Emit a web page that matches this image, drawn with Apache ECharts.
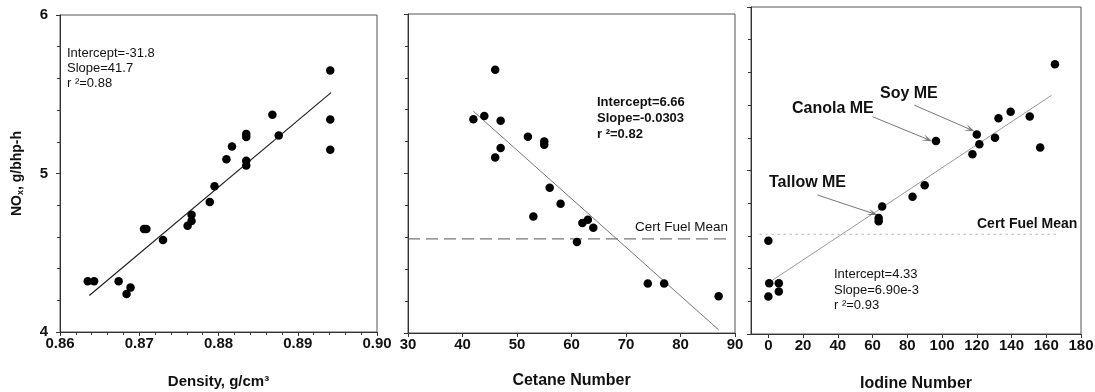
<!DOCTYPE html>
<html>
<head>
<meta charset="utf-8">
<script src="https://cdn.jsdelivr.net/npm/echarts@6/dist/echarts.min.js"></script>
<style>html,body{margin:0;padding:0;background:#fff}#c{width:1095px;height:392px}</style>
</head>
<body>
<div id="c"></div>
<script>
// ---- Data ----
const densityX = [0.8635,0.8643,0.8674,0.8684,0.8689,0.8706,0.8709,0.8730,0.8761,0.8766,0.8766,0.8789,0.8795,0.8810,0.8817,0.8835,0.8835,0.8835,0.8835,0.8868,0.8876,0.8941,0.8941,0.8941];
const densityNOx = [4.32,4.32,4.32,4.24,4.28,4.65,4.65,4.58,4.67,4.74,4.70,4.82,4.92,5.09,5.17,5.25,5.23,5.08,5.05,5.37,5.24,5.65,5.34,5.15];
const densityFitX = [0.8637,0.8942];
const densityFitY = [4.23,5.51];

const cetaneX = [46,42,44,47,47,46,52,55,55,56,58,53,62,63,64,61,74,77,87];
const cetaneNOx = [5.65,5.34,5.36,5.33,5.16,5.10,5.23,5.20,5.18,4.91,4.81,4.73,4.69,4.71,4.66,4.57,4.31,4.31,4.23];
const cetaneFitX = [42,87];
const cetaneFitY = [5.39,4.02];
const cetaneCertX = [30,88.7];
const cetaneCertY = [4.59,4.59];

const iodineX = [165,96.5,120,121.5,117.5,130.5,132.5,139.5,150.5,156.5,90,83,65.5,63.5,63.5,0,0.5,6,6,0];
const iodineNOx = [5.65,5.18,5.22,5.16,5.10,5.20,5.32,5.36,5.33,5.14,4.91,4.84,4.78,4.71,4.69,4.57,4.31,4.31,4.26,4.23];
const iodineFitX = [2.5,163];
const iodineFitY = [4.33,5.46];
const iodineCertX = [-5,166];
const iodineCertY = [4.61,4.61];
const iodineTicks = [0,20,40,60,80,100,120,140,160,180];
// arrows: [fromX, fromY, toX, toY]
const arrowSoy = [84,5.40,116,5.252];
const arrowCanola = [60,5.329,91.6,5.191];
const arrowTallow = [28.3,4.85,60,4.738];

const yTitle = 'NO{sub|x}, g/bhp-h';
const xTitles = ['Density, g/cm\u00B3','Cetane Number','Iodine Number'];
const stats1 = ['Intercept=-31.8','Slope=41.7','r \u00B2=0.88'];
const stats2 = ['Intercept=6.66','Slope=-0.0303','r \u00B2=0.82'];
const stats3 = ['Intercept=4.33','Slope=6.90e-3','r \u00B2=0.93'];

// ---- Helpers ----
const zip = (a,b) => a.map((v,i)=>[v,b[i]]);
const FONT = 'Liberation Sans, Arial, sans-serif';
const chart = echarts.init(document.getElementById('c'));

const labelStyle = {fontFamily: FONT, fontWeight: 'bold', fontSize: 15, color: '#111'};
const nameSizes = [15, 16, 16];
const nameGaps = [42, 40, 42];

function xAxisBase(idx, extra){
  return Object.assign({
    type: 'value', gridIndex: idx, splitLine: {show:false},
    axisLine: {onZero:false, lineStyle:{color:'#333', width:1}},
    axisTick: {show:true, length:4, lineStyle:{color:'#333'}},
    axisLabel: Object.assign({margin:4}, labelStyle),
    name: xTitles[idx], nameLocation: 'middle', nameGap: nameGaps[idx],
    nameTextStyle: {fontFamily: FONT, fontWeight: 'bold', fontSize: nameSizes[idx], color: '#111'}
  }, extra);
}
function yAxisBase(idx, extra){
  return Object.assign({
    type: 'value', gridIndex: idx, min: 4, max: 6, interval: 1, splitLine: {show:false},
    axisLine: {onZero:false, lineStyle:{color:'#333', width:1}},
    axisTick: {show:true, length:4, lineStyle:{color:'#333'}},
    minorTick: {show:true, splitNumber:5, length:3, lineStyle:{color:'#333'}},
    axisLabel: Object.assign({margin:12}, labelStyle)
  }, extra);
}
const dotSeries = (idx, xs, ys) => ({type:'scatter', xAxisIndex:idx, yAxisIndex:idx, data: zip(xs,ys), symbol:'circle', symbolSize:8.5, itemStyle:{color:'#000', opacity:1}, silent:true, z:5});
const lineSeries = (idx, xs, ys, style) => ({type:'line', xAxisIndex:idx, yAxisIndex:idx, data: zip(xs,ys), symbol:'none', lineStyle: style, silent:true, z:3});
const arrowLine = a => [{coord:[a[0],a[1]]},{coord:[a[2],a[3]]}];

const gridBase = {show:true, borderColor:'#555', borderWidth:1, backgroundColor:'transparent', outerBoundsMode:'none', containLabel:false};

const textEl = (x, y, lines, size, bold, lh, va) => ({
  type:'text', x:x, y:y, silent:true, z:50,
  style:{text: lines.join('\n'), fontFamily: FONT, fontSize: size, fontWeight: bold?'bold':'normal', fill:'#111', lineHeight: lh, verticalAlign: va||'top', align:'left'}
});

chart.setOption({
  animation: false,
  backgroundColor: '#fff',
  grid: [
    Object.assign({left:60, top:15, width:317, height:317}, gridBase),
    Object.assign({left:408, top:14, width:327, height:319}, gridBase),
    Object.assign({left:751, top:7, width:330, height:327}, gridBase)
  ],
  xAxis: [
    xAxisBase(0, {min:0.86, max:0.90, interval:0.01,
      minorTick:{show:true, splitNumber:5, length:3, lineStyle:{color:'#333'}},
      axisLabel: Object.assign({margin:4, formatter: v => v.toFixed(2)}, labelStyle)}),
    xAxisBase(1, {min:30, max:90, interval:10}),
    xAxisBase(2, {min:-10, max:180,
      axisTick:{show:true, length:4, customValues: iodineTicks, lineStyle:{color:'#333'}},
      axisLabel: Object.assign({margin:4, customValues: iodineTicks}, labelStyle)})
  ],
  yAxis: [
    yAxisBase(0, {name: yTitle, nameLocation:'middle', nameGap:35, nameRotate:90,
      nameTextStyle: {fontFamily: FONT, fontWeight: 'bold', fontSize: 14, color: '#111',
        rich:{sub:{fontFamily:FONT, fontWeight:'bold', fontSize:9, color:'#111', verticalAlign:'bottom', padding:[6,0,0,0]}}}}),
    yAxisBase(1, {axisLabel:{show:false}}),
    yAxisBase(2, {axisLabel:{show:false}})
  ],
  series: [
    lineSeries(0, densityFitX, densityFitY, {color:'#222', width:1.2}),
    dotSeries(0, densityX, densityNOx),
    lineSeries(1, cetaneCertX, cetaneCertY, {color:'#555', width:1, type:[12,6]}),
    lineSeries(1, cetaneFitX, cetaneFitY, {color:'#777', width:1}),
    dotSeries(1, cetaneX, cetaneNOx),
    lineSeries(2, iodineCertX, iodineCertY, {color:'#aaa', width:1, type:[2,4]}),
    lineSeries(2, iodineFitX, iodineFitY, {color:'#999', width:1}),
    Object.assign(dotSeries(2, iodineX, iodineNOx), {
      markLine: {silent:true, animation:false, symbol:['none','path://M0,10L5,0L10,10L5,5Z'], symbolSize:[7,10],
        label:{show:false}, lineStyle:{color:'#777', width:1, type:'solid'},
        data:[arrowLine(arrowSoy), arrowLine(arrowCanola), arrowLine(arrowTallow)]}
    })
  ],
  graphic: [
    textEl(67, 46, stats1, 13, false, 15),
    textEl(597, 94, stats2, 13, true, 16),
    textEl(834, 267, stats3, 13, false, 15.5),
    textEl(880, 94, ['Soy ME'], 16, true, 18, 'middle'),
    textEl(792, 109, ['Canola ME'], 16, true, 18, 'middle'),
    textEl(769, 183, ['Tallow ME'], 16, true, 18, 'middle'),
    textEl(635, 227, ['Cert Fuel Mean'], 13.5, false, 16, 'middle'),
    textEl(977, 224, ['Cert Fuel Mean'], 14, true, 16, 'middle')
  ]
});
</script>
</body>
</html>
